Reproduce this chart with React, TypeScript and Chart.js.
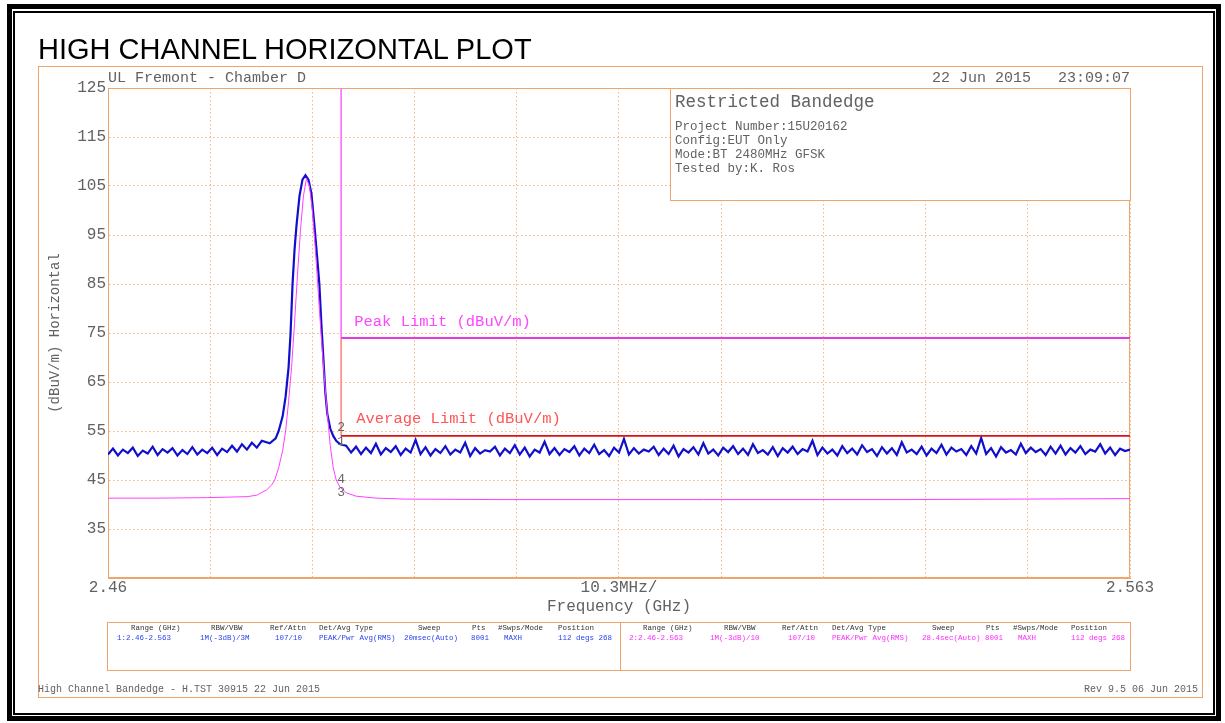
import React, { useEffect, useRef } from 'react';
import { Chart, registerables } from 'chart.js';
Chart.register(...registerables);

// ---------- axis definitions ----------
const X_MIN = 2.46;
const X_MAX = 2.563;
const Y_MIN = 25;
const Y_MAX = 125;
const xTickValues = [2.46, 2.4703, 2.4806, 2.4909, 2.5012, 2.5115, 2.5218, 2.5321, 2.5424, 2.5527, 2.563];
const xTickLabels = ['2.46', '', '', '', '', '10.3MHz/', '', '', '', '', '2.563'];
const yTickValues = [25, 35, 45, 55, 65, 75, 85, 95, 105, 115, 125];
const yTickLabels = ['', '35', '45', '55', '65', '75', '85', '95', '105', '115', '125'];

// ---------- trace 1 (blue, peak detector) ----------
const sweepStep = 0.0005; // GHz between listed floor readings
const blueLeftStart = 2.46;
const blueLeftValues = [
  50.2, 51.4, 50.0, 51.2, 50.5, 51.6, 49.9, 51.0, 50.4, 51.8, 50.1, 51.3, 50.6, 51.5, 50.0, 51.1,
  50.3, 51.7, 50.2, 51.2, 50.5, 51.6, 50.1, 51.4, 50.7, 52.0, 50.8, 52.3, 51.2, 52.6, 51.6, 53.0,
];
const bluePeakFreqs = [
  2.4763, 2.4769, 2.4772, 2.4776, 2.4779, 2.4782, 2.4784, 2.4785, 2.4786, 2.4788, 2.479, 2.4793,
  2.4796, 2.4799, 2.4802, 2.4805, 2.4808, 2.4811, 2.4813, 2.4815, 2.4817, 2.4819, 2.4821, 2.4824,
  2.4827, 2.4830, 2.4834,
];
const bluePeakValues = [
  52.5, 53.5, 55.0, 58.0, 62.0, 68.0, 75.0, 80.0, 85.0, 92.0, 97.0, 103.0,
  106.3, 107.2, 106.3, 103.5, 97.0, 90.0, 85.0, 77.0, 70.0, 63.0, 58.5, 55.5,
  54.0, 53.0, 52.3,
];
const blueRightStart = 2.484;
const blueRightValues = [
  52.0, 50.6, 51.8, 50.3, 51.6, 50.5, 52.4, 50.2, 51.5, 50.7, 51.9, 50.1, 51.4, 50.6, 53.2, 50.3, 51.7, 50.0, 51.3, 50.5,
  51.9, 50.2, 51.2, 50.6, 52.6, 49.9, 51.5, 50.4, 51.1, 50.8, 51.8, 50.0, 51.4, 50.5, 52.1, 50.2, 51.6, 49.8, 51.2, 50.6,
  52.8, 50.3, 51.5, 50.1, 51.3, 50.7, 51.9, 50.0, 51.4, 50.5, 52.2, 50.3, 51.1, 49.9, 51.6, 50.6, 53.4, 50.2, 51.5, 50.4,
  51.2, 50.8, 51.8, 50.1, 51.4, 50.3, 52.0, 49.8, 51.3, 50.6, 51.7, 50.2, 52.5, 50.4, 51.2, 50.0, 51.6, 50.7, 51.9, 50.3,
  51.4, 50.1, 52.3, 50.5, 51.1, 50.2, 51.7, 49.9, 51.5, 50.6, 51.8, 50.3, 51.3, 50.8, 53.0, 50.1, 51.6, 50.4, 51.2, 50.0,
  51.9, 50.5, 51.4, 50.2, 52.1, 50.7, 51.3, 49.9, 51.7, 50.4, 51.5, 50.1, 52.7, 50.6, 51.2, 50.3, 51.8, 50.0, 51.4, 50.5,
  52.2, 50.2, 51.6, 50.8, 51.3, 50.1, 51.9, 50.4, 53.6, 50.3, 51.5, 49.8, 51.7, 50.6, 51.1, 50.2, 52.4, 50.5, 51.6, 50.7,
  51.3, 50.1, 51.8, 50.4, 52.0, 50.2, 51.5, 50.6, 51.9, 50.3, 51.2, 50.8, 52.3, 50.4, 51.6, 50.1, 51.4, 50.9, 51.2,
];

// ---------- trace 2 (magenta, RMS average) ----------
const avgFreqs = [
  2.46, 2.465, 2.47, 2.474, 2.475, 2.476, 2.4765, 2.4768, 2.4772, 2.4776, 2.4779, 2.4782, 2.4785,
  2.4788, 2.4791, 2.4794, 2.4797, 2.48, 2.4803, 2.4806, 2.4809, 2.4812, 2.4815, 2.4818, 2.4821,
  2.4824, 2.4827, 2.483, 2.4834, 2.484, 2.485, 2.487, 2.49, 2.5, 2.52, 2.54, 2.563,
];
const avgValues = [
  41.3, 41.3, 41.4, 41.6, 41.9, 43.0, 44.0, 45.0, 47.5, 51.0, 55.0, 61.0, 68.0,
  77.0, 87.0, 96.0, 103.0, 106.5, 105.0, 100.0, 92.0, 83.0, 74.0, 66.0, 58.5,
  52.0, 47.5, 45.0, 43.5, 42.4, 41.7, 41.3, 41.1, 41.0, 41.0, 41.0, 41.2,
];

// ---------- limits & markers ----------
const peakLimitFreqs = [2.4835, 2.4835, 2.563];
const peakLimitValues = [125, 74, 74];
const avgLimitFreqs = [2.4835, 2.4835, 2.563];
const avgLimitValues = [74, 54, 54];
const markerFreqs = [2.4835, 2.4835, 2.4835, 2.4835];
const markerValues = [52.8, 55.6, 42.4, 45.0];
const markerLabels = ['1', '2', '3', '4'];

const MONO = '"Liberation Mono", "DejaVu Sans Mono", monospace';
const ORANGE = '#eea56c';
const GRID = '#f3b68a';
const GRAY = '#626262';

const pts = (xs: number[], ys: number[]) => xs.map((x, i) => ({ x, y: ys[i] }));
const stepPts = (start: number, ys: number[]) => ys.map((y, i) => ({ x: start + i * sweepStep, y }));

const overlayPlugin = {
  id: 'overlay',
  beforeDatasetsDraw(chart: any) {
    const { ctx, chartArea: a } = chart;
    ctx.save();
    ctx.strokeStyle = ORANGE;
    ctx.lineWidth = 1;
    ctx.strokeRect(a.left + 0.5, a.top + 0.5, a.right - a.left - 1, a.bottom - a.top - 1);
    ctx.restore();
  },
  afterDatasetsDraw(chart: any) {
    const { ctx } = chart;
    const x = chart.scales.x;
    const y = chart.scales.y;
    const edge = x.getPixelForValue(peakLimitFreqs[0]);
    ctx.save();
    ctx.textBaseline = 'middle';
    ctx.textAlign = 'left';
    ctx.font = `15.5px ${MONO}`;
    ctx.fillStyle = '#ff45ff';
    ctx.fillText('Peak Limit (dBuV/m)', edge + 13, y.getPixelForValue(peakLimitValues[1]) - 16);
    ctx.fillStyle = '#ff5555';
    ctx.fillText('Average Limit (dBuV/m)', edge + 15, y.getPixelForValue(avgLimitValues[1]) - 17);
    ctx.font = `13px ${MONO}`;
    ctx.fillStyle = '#666666';
    ctx.textAlign = 'center';
    markerLabels.forEach((m, i) => {
      ctx.fillText(m, x.getPixelForValue(markerFreqs[i]), y.getPixelForValue(markerValues[i]));
    });
    ctx.restore();
  },
};

function Txt(props: { x: number; y: number; size: number; color?: string; right?: boolean; children: string; family?: string }) {
  const style: React.CSSProperties = {
    position: 'absolute',
    top: props.y,
    fontFamily: props.family || MONO,
    fontSize: props.size,
    lineHeight: 1,
    color: props.color || GRAY,
    whiteSpace: 'pre',
    transform: 'translateY(-50%)',
  };
  if (props.right) style.right = 1225 - props.x;
  else style.left = props.x;
  return <div style={style}>{props.children}</div>;
}

const tableHeaders = ['Range (GHz)', 'RBW/VBW', 'Ref/Attn', 'Det/Avg Type', 'Sweep', 'Pts', '#Swps/Mode', 'Position'];
const table1Values = ['1:2.46-2.563', '1M(-3dB)/3M', '107/10', 'PEAK/Pwr Avg(RMS)', '20msec(Auto)', '8001', 'MAXH', '112 degs 268'];
const table2Values = ['2:2.46-2.563', '1M(-3dB)/10', '107/10', 'PEAK/Pwr Avg(RMS)', '28.4sec(Auto)', '8001', 'MAXH', '112 degs 268 cm'];
const t1HeadX = [131, 211, 270, 319, 418, 472, 498, 558];
const t1ValX = [117, 200, 275, 319, 404, 471, 504, 558];
const t2HeadX = [643, 724, 782, 832, 932, 986, 1013, 1071];
const t2ValX = [629, 710, 788, 832, 922, 985, 1018, 1071];

export default function App() {
  const ref = useRef<HTMLCanvasElement>(null);
  useEffect(() => {
    if (!ref.current) return;
    const chart = new Chart(ref.current, {
      type: 'line',
      data: {
        datasets: [
          {
            data: pts(markerFreqs, markerValues),
            showLine: false,
            pointRadius: 0,
            borderColor: 'transparent',
          } as any,
          {
            data: pts(peakLimitFreqs, peakLimitValues),
            borderColor: '#e43ae4',
            segment: {
              borderWidth: (c: any) => (c.p0DataIndex === 0 ? 1 : 2),
              borderColor: (c: any) => (c.p0DataIndex === 0 ? '#ff70ff' : '#e43ae4'),
            },
            borderWidth: 2,
          },
          {
            data: pts(avgLimitFreqs, avgLimitValues),
            borderColor: '#e01010',
            segment: {
              borderWidth: (c: any) => (c.p0DataIndex === 0 ? 1 : 1.6),
              borderColor: (c: any) => (c.p0DataIndex === 0 ? '#ff8a8a' : '#e01010'),
            },
            borderWidth: 1.6,
          },
          {
            data: pts(avgFreqs, avgValues),
            borderColor: '#ff40ff',
            borderWidth: 1,
          },
          {
            data: [
              ...stepPts(blueLeftStart, blueLeftValues),
              ...pts(bluePeakFreqs, bluePeakValues),
              ...stepPts(blueRightStart, blueRightValues),
            ],
            borderColor: '#1010cc',
            borderWidth: 2.2,
          },
        ],
      },
      options: {
        animation: false,
        responsive: false,
        parsing: false,
        normalized: true,
        layout: { padding: { left: 38, top: 88, right: 95, bottom: 0 } },
        plugins: { legend: { display: false }, tooltip: { enabled: false } },
        elements: { point: { radius: 0 }, line: { tension: 0 } },
        scales: {
          x: {
            type: 'linear',
            min: X_MIN,
            max: X_MAX,
            afterBuildTicks: (s: any) => {
              s.ticks = xTickValues.map((v) => ({ value: v }));
            },
            afterFit: (s: any) => {
              s.height = 145;
            },
            ticks: {
              callback: (_v: any, i: number) => xTickLabels[i],
              font: { family: MONO, size: 16 },
              color: GRAY,
              padding: 0,
              maxRotation: 0,
              autoSkip: false,
            },
            grid: { color: GRID, lineWidth: 1, drawTicks: false },
            border: { display: true, color: ORANGE, dash: [1.5, 2.5] },
            title: {
              display: true,
              text: 'Frequency (GHz)',
              font: { family: MONO, size: 16 },
              color: GRAY,
              padding: { top: 0, bottom: 107 },
            },
          },
          y: {
            type: 'linear',
            min: Y_MIN,
            max: Y_MAX,
            afterBuildTicks: (s: any) => {
              s.ticks = yTickValues.map((v) => ({ value: v }));
            },
            afterFit: (s: any) => {
              s.width = 70;
            },
            ticks: {
              callback: (_v: any, i: number) => yTickLabels[i],
              font: { family: MONO, size: 16 },
              color: GRAY,
              padding: 2,
              autoSkip: false,
            },
            grid: { color: GRID, lineWidth: 1, drawTicks: false },
            border: { display: true, color: ORANGE, dash: [1.5, 2.5] },
            title: {
              display: true,
              text: '(dBuV/m) Horizontal',
              font: { family: MONO, size: 14 },
              color: GRAY,
              padding: { top: 9, bottom: 0 },
            },
          },
        },
      },
      plugins: [overlayPlugin],
    } as any);
    return () => chart.destroy();
  }, []);

  const abs = (l: number, t: number, w: number, h: number, extra: React.CSSProperties = {}): React.CSSProperties => ({
    position: 'absolute',
    left: l,
    top: t,
    width: w,
    height: h,
    boxSizing: 'border-box',
    ...extra,
  });

  return (
    <div style={{ position: 'fixed', left: 0, top: 0, width: 1225, height: 723, background: '#fff', overflow: 'hidden' }}>
      <canvas ref={ref} width={1225} height={723} style={{ position: 'absolute', left: 0, top: 0 }} />
      {/* black outer frames */}
      <div style={abs(7, 4, 1214, 717, { border: '5px solid #000' })} />
      <div style={abs(13, 11, 1202, 704, { border: '2px solid #000' })} />
      {/* orange page frame */}
      <div style={abs(38, 66, 1165, 632, { border: `1px solid ${ORANGE}` })} />
      {/* title */}
      <div
        style={{
          position: 'absolute',
          left: 38,
          top: 34.5,
          fontFamily: '"Liberation Sans", Arial, sans-serif',
          fontSize: 29,
          lineHeight: '29px',
          color: '#000',
          whiteSpace: 'pre',
        }}
      >
        HIGH CHANNEL HORIZONTAL PLOT
      </div>
      <Txt x={108} y={78} size={15}>UL Fremont - Chamber D</Txt>
      <Txt x={1130} y={78} size={15} right>{'22 Jun 2015   23:09:07'}</Txt>
      {/* info box */}
      <div style={abs(670, 88, 461, 113, { border: `1px solid ${ORANGE}`, background: '#fff' })} />
      <Txt x={675} y={103} size={17.5}>Restricted Bandedge</Txt>
      <Txt x={675} y={127} size={12.5}>Project Number:15U20162</Txt>
      <Txt x={675} y={141} size={12.5}>Config:EUT Only</Txt>
      <Txt x={675} y={155} size={12.5}>Mode:BT 2480MHz GFSK</Txt>
      <Txt x={675} y={169} size={12.5}>Tested by:K. Ros</Txt>
      {/* settings table */}
      <div style={abs(107, 622, 1024, 49, { border: `1px solid ${ORANGE}` })} />
      <div style={abs(620, 622, 1, 49, { background: ORANGE })} />
      {tableHeaders.map((h, i) => (
        <Txt key={'h1' + i} x={t1HeadX[i]} y={629} size={7.5} color="#333">{h}</Txt>
      ))}
      {table1Values.map((v, i) => (
        <Txt key={'v1' + i} x={t1ValX[i]} y={639} size={7.5} color="#2a45f0">{v}</Txt>
      ))}
      <div style={abs(621, 623, 509, 47, { overflow: 'hidden' })}>
        <div style={{ position: 'absolute', left: -621, top: -623, width: 1225, height: 723 }}>
          {tableHeaders.map((h, i) => (
            <Txt key={'h2' + i} x={t2HeadX[i]} y={629} size={7.5} color="#333">{h}</Txt>
          ))}
          {table2Values.map((v, i) => (
            <Txt key={'v2' + i} x={t2ValX[i]} y={639} size={7.5} color="#ff2cff">{v}</Txt>
          ))}
        </div>
      </div>
      {/* footer */}
      <Txt x={38} y={690} size={10}>High Channel Bandedge - H.TST 30915 22 Jun 2015</Txt>
      <Txt x={1198} y={690} size={10} right>Rev 9.5 06 Jun 2015</Txt>
    </div>
  );
}
